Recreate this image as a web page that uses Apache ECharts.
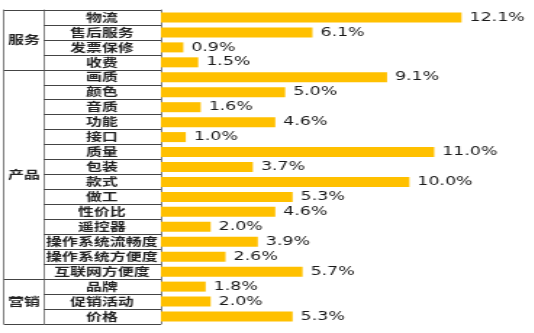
<!DOCTYPE html>
<html>
<head>
<meta charset="utf-8">
<script src="https://cdn.jsdelivr.net/npm/echarts@6/dist/echarts.min.js"></script>
<style>
html,body{margin:0;padding:0;background:#fff;overflow:hidden;}
#chart{width:368.3px;height:333px;transform:scaleX(1.45);transform-origin:0 0;}
</style>
</head>
<body>
<div id="chart"></div>
<script>
// Data
const categories = ['物流','售后服务','发票保修','收费','画质','颜色','音质','功能','接口','质量','包装','款式','做工','性价比','遥控器','操作系统流畅度','操作系统方便度','互联网方便度','品牌','促销活动','价格'];
const values = [12.1,6.1,0.9,1.5,9.1,5.0,1.6,4.6,1.0,11.0,3.7,10.0,5.3,4.6,2.0,3.9,2.6,5.7,1.8,2.0,5.3];
const groupNames = ['服务','产品','营销'];
const groupSizes = [4,14,3];

// group boundaries & centres derived from sizes
const groupBounds = [0];
const groupCenters = [];
groupSizes.forEach((s,i)=>{ const start = groupBounds[i]; groupBounds.push(start+s); groupCenters.push(start+s/2); });

const lineColor = '#444';
const chart = echarts.init(document.getElementById('chart'));
chart.setOption({
  animation:false,
  grid:{left:111, right:0, top:10, bottom:9},
  xAxis:{type:'value', min:0, max:15, show:false},
  yAxis:[
    {
      type:'category', data:categories, inverse:true, position:'left',
      axisLine:{show:true, lineStyle:{color:lineColor, width:0.7}},
      axisTick:{show:true, interval:0, length:80.7, lineStyle:{color:lineColor, width:1}},
      axisLabel:{interval:0, align:'center', margin:40.7, fontFamily:'Noto Sans CJK SC', fontWeight:'bold', fontSize:11, color:'#222'}
    },
    {
      type:'value', min:0, max:categories.length, inverse:true, position:'left', offset:80.7,
      splitLine:{show:false},
      axisLine:{show:true, lineStyle:{color:lineColor, width:0.7}},
      axisTick:{show:true, length:27.6, customValues:groupBounds, lineStyle:{color:lineColor, width:1}},
      axisLabel:{customValues:groupCenters, align:'center', margin:13.8, fontFamily:'Noto Sans CJK SC', fontWeight:'bold', fontSize:11, color:'#222',
        formatter:(v)=>{ const i = groupCenters.indexOf(v); return i>=0 ? groupNames[i] : ''; }}
    },
    {
      type:'value', min:0, max:categories.length, inverse:true, position:'left', offset:108.3,
      splitLine:{show:false},
      axisLine:{show:true, lineStyle:{color:lineColor, width:0.7}},
      axisTick:{show:false}, axisLabel:{show:false}
    }
  ],
  series:[{
    type:'bar', data:values, yAxisIndex:0, barWidth:10,
    itemStyle:{color:'#FFC000'},
    label:{show:true, position:'right', distance:5.5, fontFamily:'DejaVu Sans', fontSize:12, color:'#1a1a1a',
      formatter:(p)=>p.value.toFixed(1)+'%'}
  }]
});
</script>
</body>
</html>
